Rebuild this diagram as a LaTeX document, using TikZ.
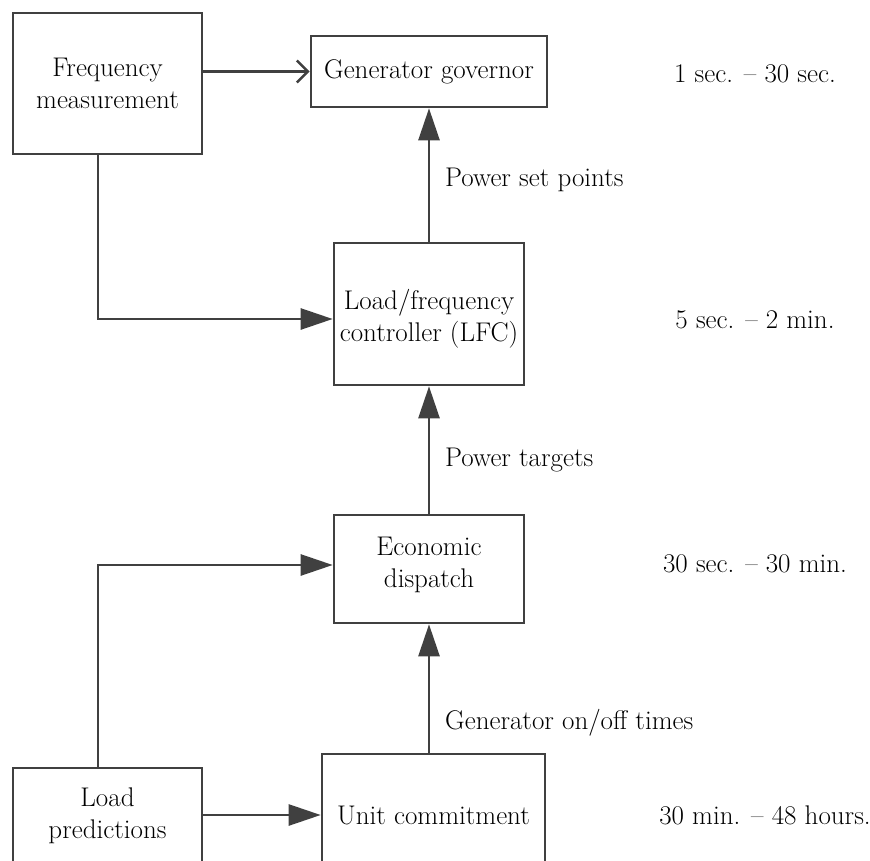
\documentclass[tikz,border=0pt]{standalone}
\usetikzlibrary{arrows.meta}
\definecolor{linec}{RGB}{64,64,64}
\begin{document}
\begin{tikzpicture}[x=1pt,y=-1pt,
  box/.style={draw=linec, line width=2.6pt, inner sep=0pt, minimum width=#1},
  txt/.style={font=\fontsize{27}{32}\selectfont, align=center, inner sep=0pt},
  conn/.style={draw=linec, line width=2.6pt},
  tri/.style={conn, -{Triangle[length=32pt,width=21pt]}},
  barb/.style={conn, -{Straight Barb[length=11pt,width=22pt,line width=2.6pt]}}]
\useasboundingbox (0,0) rectangle (870,861);
\clip (0,0) rectangle (870,861);
% boxes
\node[box=189pt, minimum height=141pt] (freq) at (107.5,83.5) {};
\node[box=236pt, minimum height=71pt] (gov) at (429,71.5) {};
\node[box=190pt, minimum height=142pt] (lfc) at (429,314) {};
\node[box=190pt, minimum height=108pt] (econ) at (429,569) {};
\node[box=189pt, minimum height=152pt] (load) at (107.5,844) {};
\node[box=223pt, minimum height=166pt] (unit) at (433.5,837) {};
% box texts
\node[txt] (freqt) at (107.5,83) {Frequency\\measurement};
\node[txt] (govt) at (429,72) {Generator governor};
\node[txt] (lfct) at (429,319) {Load/frequency\\controller (LFC)};
\node[txt] (econt) at (429,565) {Economic\\dispatch};
\node[txt] (loadt) at (107.5,816) {Load\\predictions};
\node[txt] (unitt) at (433.5,815) {Unit commitment};
% connector labels
\node[txt, anchor=west] (l1) at (445,180) {Power set points};
\node[txt, anchor=west] (l2) at (445,460) {Power targets};
\node[txt, anchor=west] (l3) at (445,723) {Generator on/off times};
% time scales
\node[txt] (t1) at (755,74) {1 sec. -- 30 sec.};
\node[txt] (t2) at (755,320) {5 sec. -- 2 min.};
\node[txt] (t3) at (755,564) {30 sec. -- 30 min.};
\node[txt] (t4) at (765,815) {30 min. -- 48 hours.};
% connectors
\draw[barb] (freq.east |- gov.west) -- (gov.west);
\draw[tri] ([xshift=-9.5pt]freq.south) |- (lfc.west |- lfct);
\draw[tri] (lfc.north) -- (gov.south);
\draw[tri] (econ.north) -- (lfc.south);
\draw[tri] (econ.south |- unit.north) -- (econ.south);
\draw[tri] ([xshift=-9.5pt]load.north) |- (econ.west |- econt);
\draw[tri] (load.east |- unitt) -- (unit.west |- unitt);
\end{tikzpicture}
\end{document}
